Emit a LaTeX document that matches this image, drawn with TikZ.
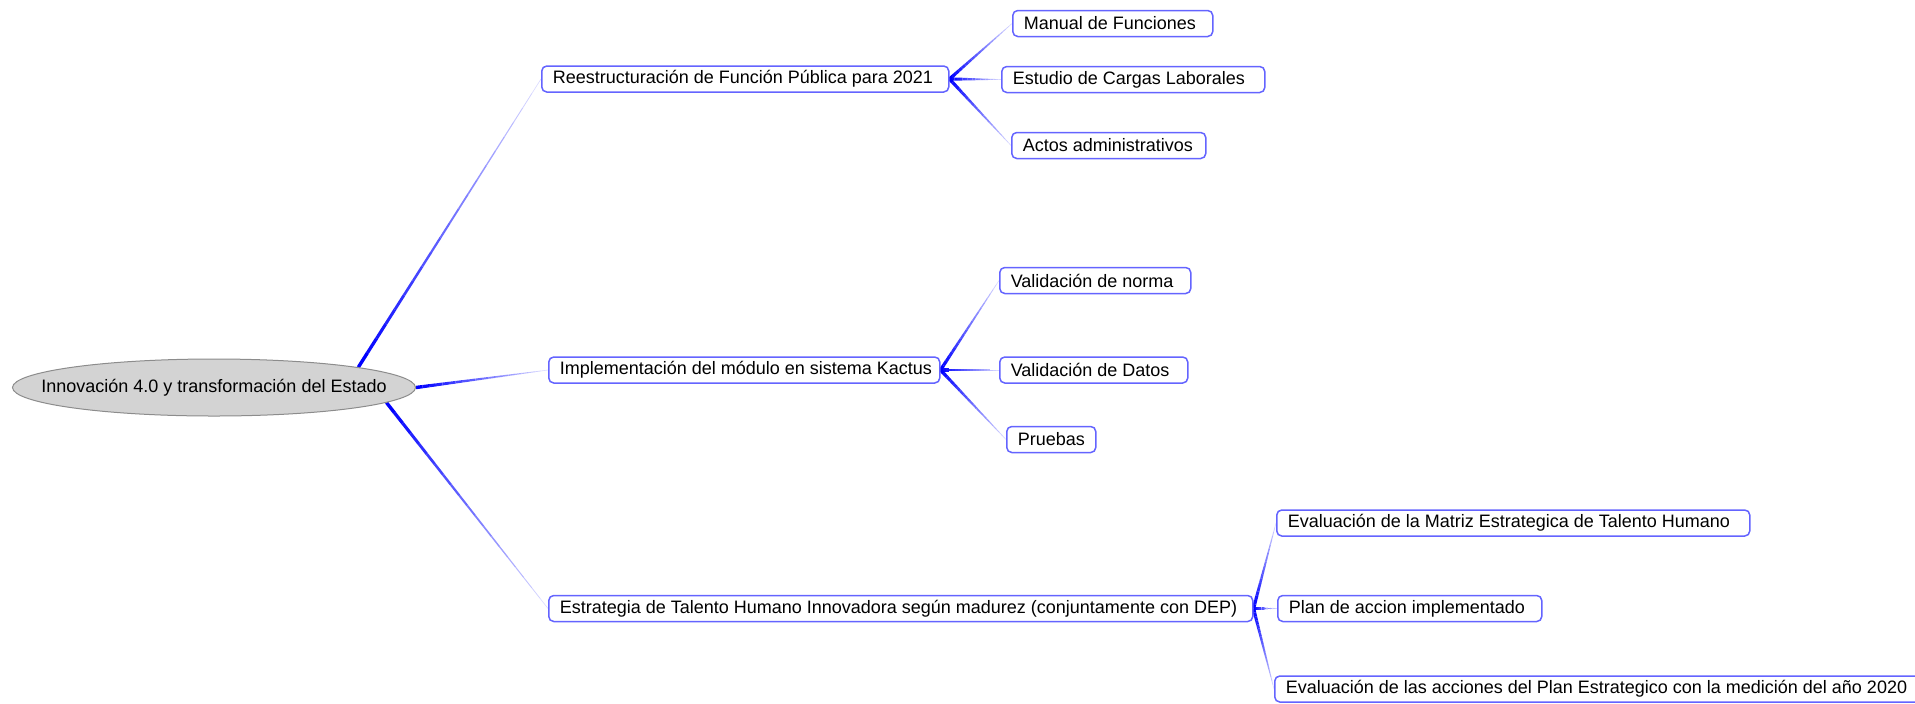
\documentclass[tikz,border=0pt]{standalone}
\usepackage{fontspec}
\setmainfont{Liberation Sans}
\usetikzlibrary{
  calc,
  backgrounds,
  shapes.geometric
}
\definecolor{mmBranch}{HTML}{0000FF}
\definecolor{mmBox}{HTML}{6464FF}
\definecolor{mmRoot}{HTML}{D3D3D3}
\definecolor{mmRootLine}{HTML}{8C8C8C}
\tikzset{
  mmnode/.style={
    draw=mmBox, line width=0.75pt, rounded corners=2.5pt, fill=white,
    minimum height=13pt, inner xsep=5.5pt, inner ysep=0pt,
    font=\fontsize{9}{11}\selectfont, anchor=west
  },
  mmroot/.style={
    ellipse, draw=mmRootLine, fill=mmRoot, line width=0.5pt,
    minimum width=201.5pt, minimum height=28.5pt, inner sep=0pt
  },
  roottext/.style={font=\fontsize{9}{11}\selectfont, inner sep=0pt}
}
% tapered branch, thick and blue at the parent, thin and pale at the child
\newcommand{\branch}[2]{%
  \foreach \k in {0,...,19}{%
    \pgfmathsetmacro{\bw}{1.7-1.4*\k/19}%
    \pgfmathtruncatemacro{\bc}{100-85*\k/19}%
    \pgfmathsetmacro{\ta}{\k/20}%
    \pgfmathsetmacro{\tb}{(\k+1)/20}%
    \draw[line width=\bw pt, draw=mmBranch!\bc!white]
      ($(#1)!\ta!(#2)$) -- ($(#1)!\tb!(#2)$);
  }}

\begin{document}
\begin{tikzpicture}[x=0.5pt, y=-0.5pt]
  \path[use as bounding box, clip] (0,0) rectangle (1915,703);

  % root
  \node[mmroot] (root) at (214,387.5) {};
  \node[roottext] (roottxt) at (root) {Innovación 4.0 y transformación del Estado};

  % first level and second level (x, y of the west side, box width in px)
  \foreach \nm/\x/\y/\w/\txt in {
    fp/541/79/407/{Reestructuración de Función Pública para 2021},
    kactus/548/370/391/{Implementación del módulo en sistema Kactus},
    talento/548/608.5/704/{Estrategia de Talento Humano Innovadora según madurez (conjuntamente con DEP)},
    manual/1012/23.5/200/{Manual de Funciones},
    cargas/1001/79.5/263/{Estudio de Cargas Laborales},
    actos/1011/145.5/194/{Actos administrativos},
    norma/999/280.5/191/{Validación de norma},
    datos/999/370/188/{Validación de Datos},
    pruebas/1006/439.5/89/{Pruebas},
    matriz/1276/523/473/{Evaluación de la Matriz Estrategica de Talento Humano},
    plan/1277/608.5/264/{Plan de accion implementado},
    medicion/1274/689/660/{Evaluación de las acciones del Plan Estrategico con la medición del año 2020}}{
    \pgfmathsetlengthmacro{\tw}{(\w-22)*0.5pt}
    \node[mmnode] (\nm) at (\x,\y) {\makebox[\tw][l]{\txt}};
  }

  \begin{scope}[on background layer]
    \branch{root.8}{fp.west}
    \branch{root.east}{kactus.west}
    \branch{root.-5}{talento.west}
    \foreach \c in {manual,cargas,actos}{\branch{fp.east}{\c.west}}
    \foreach \c in {norma,datos,pruebas}{\branch{kactus.east}{\c.west}}
    \foreach \c in {matriz,plan,medicion}{\branch{talento.east}{\c.west}}
  \end{scope}
\end{tikzpicture}
\end{document}
